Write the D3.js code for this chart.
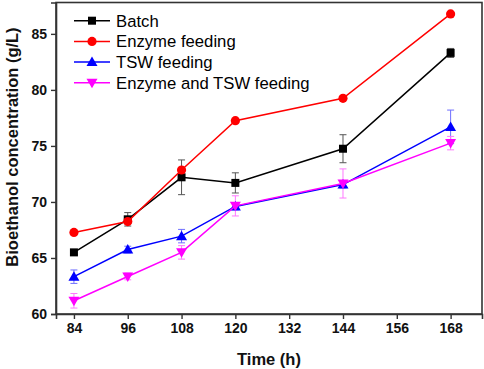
<!DOCTYPE html>
<html>
<head>
<meta charset="utf-8">
<script src="https://cdn.jsdelivr.net/npm/d3@7"></script>
<style>
  body { margin: 0; background: #fff; }
  text { font-family: "Liberation Sans", Arial, sans-serif; }
</style>
</head>
<body>
<div id="chart"></div>
<script>
const times = [84, 96, 108, 120, 144, 168];
const xTicks = [84, 96, 108, 120, 132, 144, 156, 168];
const yTicks = [60, 65, 70, 75, 80, 85];

const batch = [65.5, 68.45, 72.2, 71.7, 74.75, 83.3];
const batchErr = [0.2, 0.6, 1.55, 0.9, 1.25, 0.4];
const enzyme = [67.28, 68.25, 72.85, 77.25, 79.25, 86.78];
const enzymeErr = [0, 0, 0, 0, 0, 0];
const tsw = [63.33, 65.75, 66.95, 69.6, 71.55, 76.7];
const tswErr = [0.6, 0.3, 0.6, 0.3, 0.3, 1.5];
const both = [61.18, 63.35, 65.5, 69.65, 71.65, 75.25];
const bothErr = [0.65, 0.3, 0.6, 0.9, 1.3, 0.6];

const seriesNames = ["Batch", "Enzyme feeding", "TSW feeding", "Enzyme and TSW feeding"];

const series = [
  { name: seriesNames[0], values: batch, err: batchErr, color: "#000000", errColor: "#555555", symbol: "square" },
  { name: seriesNames[1], values: enzyme, err: enzymeErr, color: "#ff0000", errColor: "#ff0000", symbol: "circle" },
  { name: seriesNames[2], values: tsw, err: tswErr, color: "#0000ff", errColor: "#6f6fff", symbol: "up" },
  { name: seriesNames[3], values: both, err: bothErr, color: "#ff00ff", errColor: "#ff77ff", symbol: "down" }
];

const width = 484, height = 369;
const margin = { top: 2.5, right: 2, bottom: 55, left: 56 };

const svg = d3.select("#chart").append("svg")
  .attr("width", width)
  .attr("height", height);

const x = d3.scaleLinear().domain([80, 175]).range([margin.left, width - margin.right]);
const y = d3.scaleLinear().domain([60, 87.8]).range([height - margin.bottom, margin.top]);

function marker(g, type, color) {
  if (type === "square") {
    g.append("rect").attr("x", -4).attr("y", -4).attr("width", 8).attr("height", 8).attr("fill", color);
  } else if (type === "circle") {
    g.append("circle").attr("r", 4.6).attr("fill", color);
  } else if (type === "up") {
    g.append("path").attr("d", "M0,-5.5L5.5,4L-5.5,4Z").attr("fill", color);
  } else {
    g.append("path").attr("d", "M0,5.5L5.5,-4L-5.5,-4Z").attr("fill", color);
  }
}

// error bars
series.forEach(s => {
  const eg = svg.append("g").attr("stroke", s.errColor).attr("stroke-width", 1);
  times.forEach((t, i) => {
    if (!s.err[i]) return;
    const cx = x(t), y1 = y(s.values[i] + s.err[i]), y2 = y(s.values[i] - s.err[i]);
    eg.append("line").attr("x1", cx).attr("x2", cx).attr("y1", y1).attr("y2", y2);
    eg.append("line").attr("x1", cx - 3.5).attr("x2", cx + 3.5).attr("y1", y1).attr("y2", y1);
    eg.append("line").attr("x1", cx - 3.5).attr("x2", cx + 3.5).attr("y1", y2).attr("y2", y2);
  });
});

// lines and markers
const line = d3.line().x((d, i) => x(times[i])).y(d => y(d));
series.forEach(s => {
  svg.append("path")
    .datum(s.values)
    .attr("fill", "none")
    .attr("stroke", s.color)
    .attr("stroke-width", 1.5)
    .attr("d", line);
  s.values.forEach((v, i) => {
    const g = svg.append("g").attr("transform", `translate(${x(times[i])},${y(v)})`);
    marker(g, s.symbol, s.color);
  });
});

// frame
svg.append("rect")
  .attr("x", margin.left)
  .attr("y", margin.top)
  .attr("width", width - margin.left - margin.right)
  .attr("height", height - margin.top - margin.bottom)
  .attr("fill", "none")
  .attr("stroke", "#333")
  .attr("stroke-width", 1.6);

// axes
const xAxis = svg.append("g")
  .attr("transform", `translate(0,${height - margin.bottom})`)
  .call(d3.axisBottom(x).tickValues(xTicks).tickSize(5).tickPadding(4));
const yAxis = svg.append("g")
  .attr("transform", `translate(${margin.left},0)`)
  .call(d3.axisLeft(y).tickValues(yTicks).tickSize(5).tickPadding(4));

[xAxis, yAxis].forEach(a => {
  a.select(".domain").attr("stroke", "#333").attr("stroke-width", 1.6);
  a.selectAll(".tick line").attr("stroke", "#333").attr("stroke-width", 1.4);
  a.selectAll(".tick text")
    .attr("fill", "#111")
    .style("font-size", "14px")
    .style("font-weight", "bold")
    .style("font-family", "'Liberation Sans', Arial, sans-serif");
});

// axis titles
svg.append("text")
  .attr("x", 269)
  .attr("y", 365)
  .attr("text-anchor", "middle")
  .style("font-size", "16.5px")
  .style("font-weight", "bold")
  .attr("fill", "#111")
  .text("Time (h)");

svg.append("text")
  .attr("transform", "translate(18,147) rotate(-90)")
  .attr("text-anchor", "middle")
  .style("font-size", "16.5px")
  .style("font-weight", "bold")
  .attr("fill", "#111")
  .text("Bioethanol concentration (g/L)");

// legend
const legend = svg.append("g");
series.forEach((s, i) => {
  const ly = 20.7 + i * 20.7;
  legend.append("line")
    .attr("x1", 74).attr("x2", 110)
    .attr("y1", ly).attr("y2", ly)
    .attr("stroke", s.color).attr("stroke-width", 1.5);
  const g = legend.append("g").attr("transform", `translate(92,${ly})`);
  marker(g, s.symbol, s.color);
  legend.append("text")
    .attr("x", 116)
    .attr("y", ly)
    .attr("dy", "0.35em")
    .style("font-size", "16.7px")
    .attr("fill", "#000")
    .text(s.name);
});
</script>
</body>
</html>
